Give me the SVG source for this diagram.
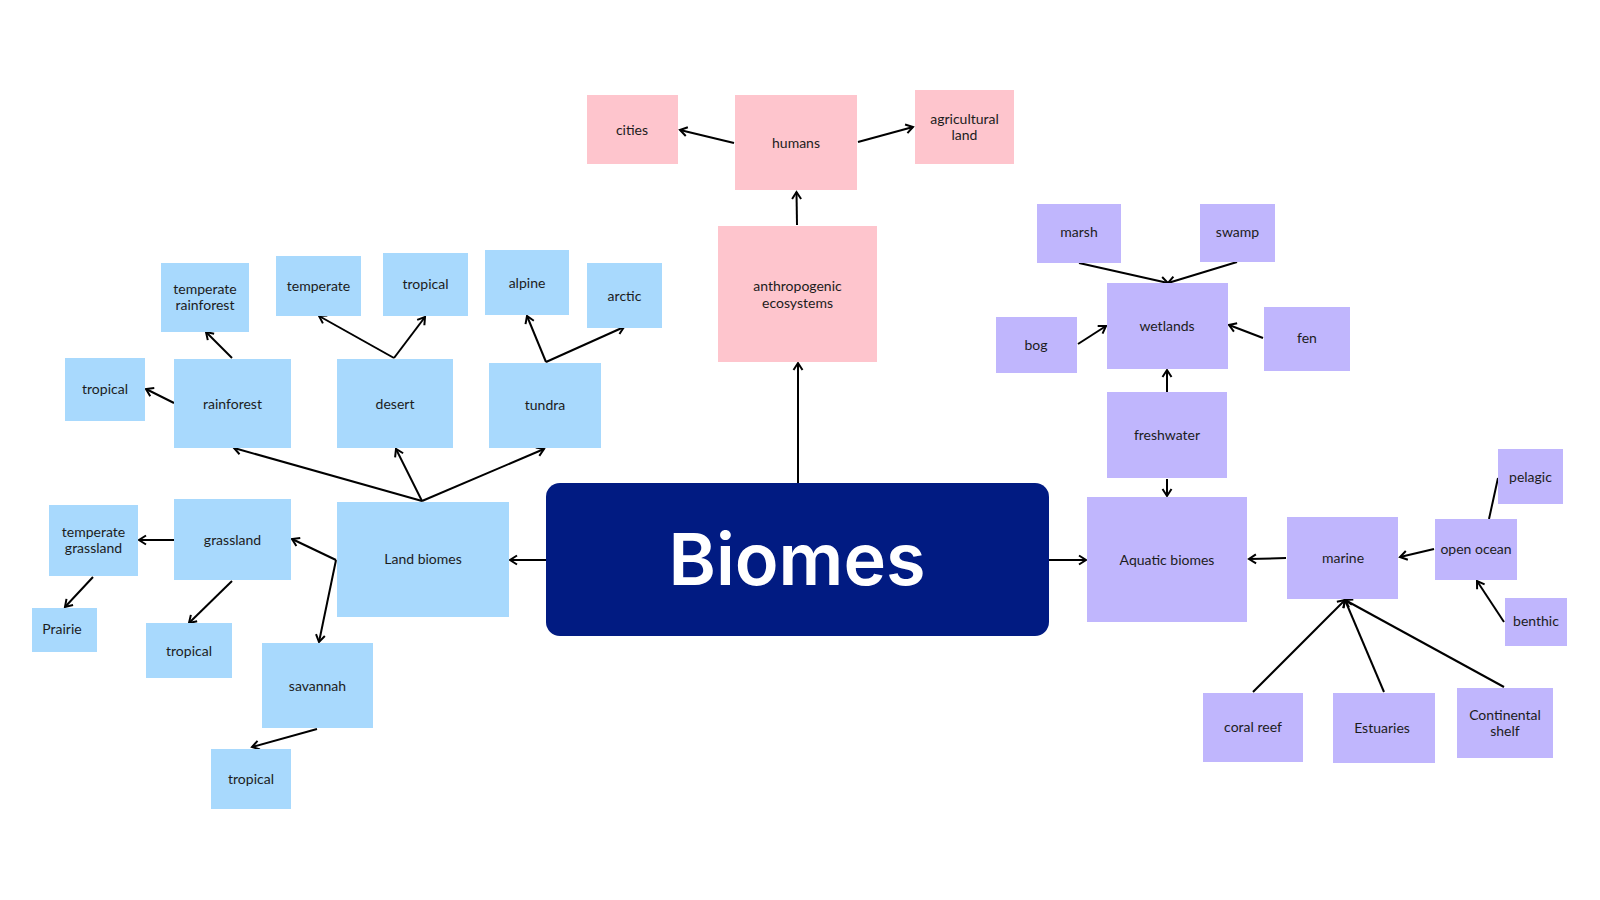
<svg xmlns="http://www.w3.org/2000/svg" width="1600" height="900" viewBox="0 0 1600 900">
<style>
.b{fill:#a8d9fd}
.p{fill:#fec5cd}
.v{fill:#c0b6fd}
.t{font-family:Lato,"Open Sans","Liberation Sans",sans-serif;font-size:14px;fill:#1c1c1c;text-anchor:middle}
.c line,.c polyline{stroke:#000;stroke-width:2;fill:none}
.c .a{marker-end:url(#ar)}
</style>
<defs>
<marker id="ar" viewBox="0 0 12 12" refX="10" refY="6" markerWidth="12" markerHeight="12" markerUnits="userSpaceOnUse" orient="auto">
<path d="M3,1.5 L10,6 L3,10.5" fill="none" stroke="#000" stroke-width="2"/>
</marker>
</defs>
<rect width="1600" height="900" fill="#fff"/>
<g class="c">
<line class="a" x1="798" y1="483" x2="798" y2="363"/>
<line class="a" x1="797" y1="225" x2="796.5" y2="192"/>
<line class="a" x1="734" y1="143" x2="680" y2="130"/>
<line class="a" x1="858" y1="142" x2="913" y2="127"/>
<line class="a" x1="546" y1="560" x2="510" y2="560"/>
<line class="a" x1="422" y1="501" x2="234" y2="448"/>
<line class="a" x1="422" y1="501" x2="396" y2="449"/>
<line class="a" x1="422" y1="501" x2="544" y2="449"/>
<line class="a" x1="232" y1="358" x2="206" y2="332"/>
<line class="a" x1="174" y1="403" x2="146" y2="389"/>
<line class="a" x1="394" y1="358" x2="319" y2="316"/>
<line class="a" x1="394" y1="358" x2="425" y2="317"/>
<line class="a" x1="546" y1="362" x2="527" y2="316"/>
<line class="a" x1="546" y1="362" x2="624" y2="327"/>
<line class="a" x1="336" y1="560" x2="292" y2="539"/>
<line class="a" x1="336" y1="560" x2="319" y2="642"/>
<line class="a" x1="174" y1="540" x2="139" y2="540"/>
<line class="a" x1="93" y1="577" x2="65" y2="607"/>
<line class="a" x1="232" y1="581" x2="189" y2="623"/>
<line class="a" x1="317" y1="729" x2="252" y2="747"/>
<line class="a" x1="1049" y1="560" x2="1086" y2="560"/>
<line class="a" x1="1079" y1="263" x2="1168" y2="283"/>
<line class="a" x1="1237" y1="262" x2="1168" y2="283"/>
<line class="a" x1="1078" y1="344" x2="1106" y2="326"/>
<line class="a" x1="1263" y1="338" x2="1229" y2="325"/>
<line class="a" x1="1167" y1="392" x2="1167" y2="370"/>
<line class="a" x1="1167" y1="479" x2="1167" y2="496"/>
<line class="a" x1="1286" y1="558" x2="1249" y2="559"/>
<line class="a" x1="1434" y1="549" x2="1400" y2="557"/>
<line x1="1498" y1="478" x2="1489" y2="519"/>
<line class="a" x1="1504" y1="622" x2="1477" y2="581"/>
<line class="a" x1="1253" y1="692" x2="1345" y2="600"/>
<line class="a" x1="1384" y1="692" x2="1345" y2="600"/>
<line class="a" x1="1504" y1="687" x2="1345" y2="600"/>
</g>
<g id="biomes"><rect x="546" y="483" width="503" height="153" rx="14" fill="#011b82"/><text x="797" y="585" font-family="Inter,'Noto Sans',sans-serif" font-weight="600" font-size="72" fill="#fff" text-anchor="middle">Biomes</text></g>
<g id="anthro"><rect class="p" x="718" y="226" width="159" height="136"/><text class="t" x="797.5" y="291">anthropogenic</text><text class="t" x="797.5" y="308">ecosystems</text></g>
<g id="humans"><rect class="p" x="735" y="95" width="122" height="95"/><text class="t" x="796" y="148">humans</text></g>
<g id="cities"><rect class="p" x="587" y="95" width="91" height="69"/><text class="t" x="632" y="135">cities</text></g>
<g id="agri"><rect class="p" x="915" y="90" width="99" height="74"/><text class="t" x="964.5" y="124">agricultural</text><text class="t" x="964.5" y="140">land</text></g>
<g id="land"><rect class="b" x="337" y="502" width="172" height="115"/><text class="t" x="423" y="564">Land biomes</text></g>
<g id="rainforest"><rect class="b" x="174" y="359" width="117" height="89"/><text class="t" x="232.5" y="409">rainforest</text></g>
<g id="desert"><rect class="b" x="337" y="359" width="116" height="89"/><text class="t" x="395" y="409">desert</text></g>
<g id="tundra"><rect class="b" x="489" y="363" width="112" height="85"/><text class="t" x="545" y="410">tundra</text></g>
<g id="temprain"><rect class="b" x="161" y="263" width="88" height="69"/><text class="t" x="205" y="294">temperate</text><text class="t" x="205" y="310">rainforest</text></g>
<g id="troprain"><rect class="b" x="65" y="358" width="80" height="63"/><text class="t" x="105" y="394">tropical</text></g>
<g id="tempdes"><rect class="b" x="276" y="256" width="85" height="60"/><text class="t" x="318.5" y="291">temperate</text></g>
<g id="tropdes"><rect class="b" x="383" y="253" width="85" height="63"/><text class="t" x="425.5" y="289">tropical</text></g>
<g id="alpine"><rect class="b" x="485" y="250" width="84" height="65"/><text class="t" x="527" y="288">alpine</text></g>
<g id="arctic"><rect class="b" x="587" y="263" width="75" height="65"/><text class="t" x="624.5" y="301">arctic</text></g>
<g id="grassland"><rect class="b" x="174" y="499" width="117" height="81"/><text class="t" x="232.5" y="545">grassland</text></g>
<g id="tempgrass"><rect class="b" x="49" y="505" width="89" height="71"/><text class="t" x="93.5" y="537">temperate</text><text class="t" x="93.5" y="553">grassland</text></g>
<g id="prairie"><rect class="b" x="32" y="608" width="65" height="44"/><text class="t" x="62" y="634">Prairie</text></g>
<g id="tropgrass"><rect class="b" x="146" y="623" width="86" height="55"/><text class="t" x="189" y="656">tropical</text></g>
<g id="savannah"><rect class="b" x="262" y="643" width="111" height="85"/><text class="t" x="317.5" y="691">savannah</text></g>
<g id="tropsav"><rect class="b" x="211" y="749" width="80" height="60"/><text class="t" x="251" y="784">tropical</text></g>
<g id="aquatic"><rect class="v" x="1087" y="497" width="160" height="125"/><text class="t" x="1167" y="565">Aquatic biomes</text></g>
<g id="freshwater"><rect class="v" x="1107" y="392" width="120" height="86"/><text class="t" x="1167" y="440">freshwater</text></g>
<g id="wetlands"><rect class="v" x="1107" y="283" width="121" height="86"/><text class="t" x="1167" y="331">wetlands</text></g>
<g id="marsh"><rect class="v" x="1037" y="204" width="84" height="59"/><text class="t" x="1079" y="237">marsh</text></g>
<g id="swamp"><rect class="v" x="1200" y="204" width="75" height="58"/><text class="t" x="1237.5" y="237">swamp</text></g>
<g id="bog"><rect class="v" x="996" y="317" width="81" height="56"/><text class="t" x="1036" y="350">bog</text></g>
<g id="fen"><rect class="v" x="1264" y="307" width="86" height="64"/><text class="t" x="1307" y="343">fen</text></g>
<g id="marine"><rect class="v" x="1287" y="517" width="111" height="82"/><text class="t" x="1343" y="563">marine</text></g>
<g id="openocean"><rect class="v" x="1435" y="519" width="82" height="61"/><text class="t" x="1476" y="554">open ocean</text></g>
<g id="pelagic"><rect class="v" x="1498" y="449" width="65" height="55"/><text class="t" x="1530.5" y="482">pelagic</text></g>
<g id="benthic"><rect class="v" x="1505" y="598" width="62" height="48"/><text class="t" x="1536" y="626">benthic</text></g>
<g id="coral"><rect class="v" x="1203" y="693" width="100" height="69"/><text class="t" x="1253" y="732">coral reef</text></g>
<g id="estuaries"><rect class="v" x="1333" y="693" width="102" height="70"/><text class="t" x="1382" y="733">Estuaries</text></g>
<g id="shelf"><rect class="v" x="1457" y="688" width="96" height="70"/><text class="t" x="1505" y="720">Continental</text><text class="t" x="1505" y="736">shelf</text></g>
</svg>
